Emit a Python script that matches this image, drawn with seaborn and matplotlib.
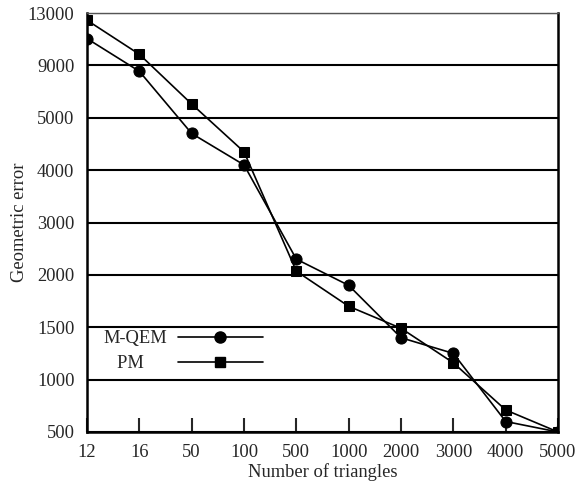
import matplotlib
matplotlib.use('Agg')
import matplotlib.pyplot as plt
import seaborn as sns
import numpy as np
import pandas as pd

triangles = ['12', '16', '50', '100', '500', '1000', '2000', '3000', '4000', '5000']
mqem = [11050, 8550, 4700, 4100, 2300, 1900, 1400, 1250, 600, 500]
pm = [12450, 9850, 6050, 4350, 2070, 1700, 1490, 1160, 710, 500]
y_ticks = [500, 1000, 1500, 2000, 3000, 4000, 5000, 9000, 13000]

df = pd.DataFrame({
    'triangles': triangles * 2,
    'error': mqem + pm,
    'method': ['M-QEM'] * len(triangles) + ['PM'] * len(triangles),
})

# l'axe y est lineaire par morceaux entre les graduations
tick_idx = np.arange(len(y_ticks))
def fwd(v):
    return np.interp(v, y_ticks, tick_idx)
def inv(i):
    return np.interp(i, tick_idx, y_ticks)

sns.set_style('white')
plt.rcParams['font.family'] = ['Liberation Serif', 'DejaVu Serif']
fs = 13.3

fig = plt.figure(figsize=(5.78, 4.9), dpi=100)
ax = fig.add_axes([0.1505, 0.1184, 0.815, 0.855])
ax.set_yscale('function', functions=(fwd, inv))

sns.lineplot(data=df[df['method'] == 'M-QEM'], x='triangles', y='error',
             color='black', marker='o', markersize=8, markeredgecolor='black',
             estimator=None, sort=False, linewidth=1.2, ax=ax)
sns.lineplot(data=df[df['method'] == 'PM'], x='triangles', y='error',
             color='black', marker='s', markersize=6.5, markeredgecolor='black',
             estimator=None, sort=False, linewidth=1.2, ax=ax)

ax.set_xlim(0, len(triangles) - 1)
ax.set_ylim(500, 13000)
ax.set_yticks(y_ticks)
ax.set_yticklabels([str(t) for t in y_ticks])
ax.set_xticks(range(len(triangles)))
ax.set_xticklabels(triangles)
ax.tick_params(axis='y', length=0, labelsize=fs, pad=9)
ax.tick_params(axis='x', direction='in', length=10, width=1.5, labelsize=fs, pad=8.5, bottom=True)
ax.yaxis.grid(True, color='black', linewidth=1.5)
ax.xaxis.grid(False)
ax.minorticks_off()

for side in ['left', 'bottom', 'right']:
    ax.spines[side].set_linewidth(1.8)
    ax.spines[side].set_color('black')
ax.spines['top'].set_linewidth(1.0)
ax.spines['top'].set_color('#555555')

ax.set_xlabel('Number of triangles', fontsize=fs, labelpad=2)
ax.set_ylabel('Geometric error', fontsize=fs, labelpad=0)

# legende sans cadre, texte a gauche du symbole
h1, = ax.plot([], [], color='black', marker='o', markersize=8, linewidth=1.2)
h2, = ax.plot([], [], color='black', marker='s', markersize=6.5, linewidth=1.2)
ax.legend([h1, h2], ['M-QEM', 'PM     '], loc='center left', bbox_to_anchor=(0.034, 0.193),
          frameon=False, markerfirst=False, numpoints=1, handlelength=4.6,
          handletextpad=0.6, borderpad=0, borderaxespad=0, labelspacing=0.45,
          fontsize=fs)

fig.savefig('out.png', dpi=100)
